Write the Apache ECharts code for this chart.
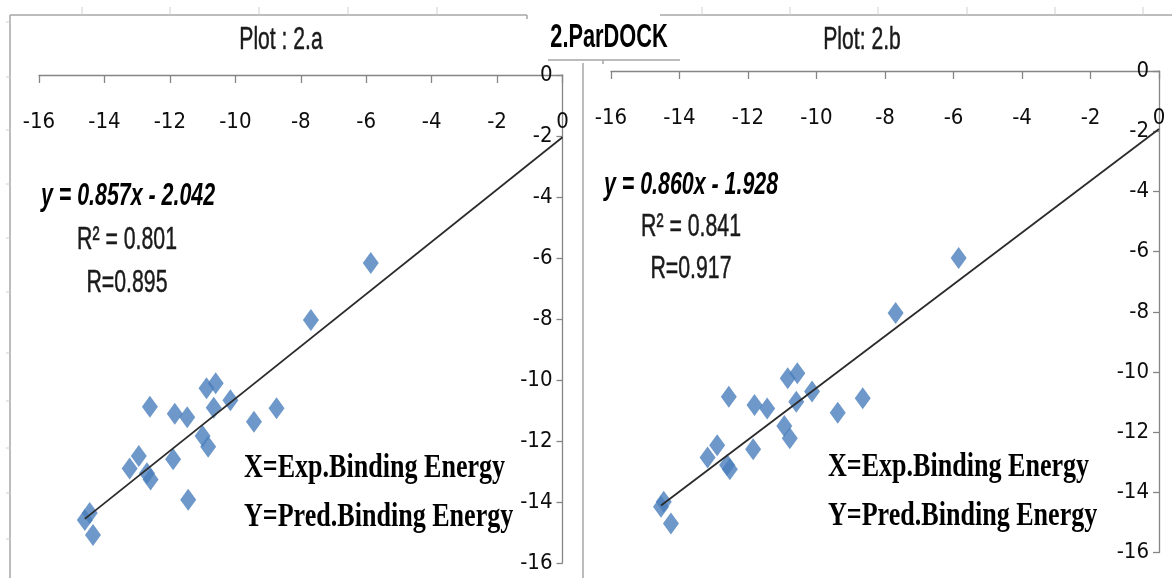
<!DOCTYPE html>
<html>
<head>
<meta charset="utf-8">
<script src="https://cdn.jsdelivr.net/npm/echarts@6/dist/echarts.min.js"></script>
<style>
html,body{margin:0;padding:0;background:#fff;}
#chart{width:1172px;height:578px;}
</style>
</head>
<body>
<div id="chart"></div>
<script>
// ---------- data ----------
const axisTicks = [-16, -14, -12, -10, -8, -6, -4, -2, 0];

const plotA_x = [-12.61, -10.88, -10.60, -10.15, -10.66, -11.85, -11.47, -9.43, -8.74, -11.00, -10.83,
                 -11.90, -12.95, -13.23, -12.70, -12.59, -11.44, -14.60, -14.45, -14.35, -5.86, -7.69];
const plotA_y = [-10.88, -10.27, -10.11, -10.66, -10.91, -11.11, -11.22, -11.37, -10.93, -11.84, -12.19,
                 -12.60, -12.49, -12.90, -13.06, -13.26, -13.93, -14.59, -14.36, -15.08, -6.16, -8.03];
const plotA_slope = 0.857, plotA_intercept = -2.042;

const plotB_x = [-12.56, -10.84, -10.56, -10.13, -10.59, -11.81, -11.44, -9.38, -8.65, -10.94, -10.78,
                 -11.85, -12.90, -13.18, -12.61, -12.53, -14.46, -14.54, -14.25, -7.69, -5.85];
const plotB_y = [-10.82, -10.21, -10.04, -10.65, -10.99, -11.10, -11.21, -11.35, -10.87, -11.79, -12.20,
                 -12.57, -12.43, -12.84, -13.09, -13.23, -14.31, -14.48, -15.03, -8.04, -6.21];
const plotB_slope = 0.860, plotB_intercept = -1.928;

const titleText = '2.ParDOCK';
const plotTitles = ['Plot : 2.a', 'Plot: 2.b'];
const eqTexts = ['y = 0.857x - 2.042', 'y = 0.860x - 1.928'];
const r2Texts = ['R\u00b2 = 0.801', 'R\u00b2 = 0.841'];
const rTexts = ['R=0.895', 'R=0.917'];
const noteX = 'X=Exp.Binding Energy';
const noteY = 'Y=Pred.Binding Energy';

// ---------- build ----------
function pairs(xs, ys){ return xs.map((x,i)=>[x, ys[i]]); }
function trend(xs, m, b){ const x0 = Math.min(...xs); return [[x0, m*x0+b],[0, b]]; }

const labelFont = "'Liberation Sans Narrow','Arial Narrow','DejaVu Sans Condensed','Liberation Sans',Arial,sans-serif";
const axisColor = '#858585';

function xAxisCfg(gi){
  return {
    type:'value', gridIndex:gi, min:axisTicks[0], max:axisTicks[axisTicks.length-1], interval:2,
    position:'top',
    axisLine:{show:true, onZero:false, lineStyle:{color:axisColor, width:1.3}},
    axisTick:{show:true, inside:true, length:8, lineStyle:{color:axisColor, width:1.3}},
    axisLabel:{inside:true, margin:36, color:'#0d0d0d', fontSize:22, fontFamily:labelFont},
    splitLine:{show:false}
  };
}
function yAxisCfg(gi){
  return {
    type:'value', gridIndex:gi, min:axisTicks[0], max:axisTicks[axisTicks.length-1], interval:2,
    position:'right',
    axisLine:{show:true, onZero:false, lineStyle:{color:axisColor, width:1.3}},
    axisTick:{show:true, inside:true, length:6, lineStyle:{color:axisColor, width:1.3}},
    axisLabel:{inside:true, margin:10, color:'#0d0d0d', fontSize:22, fontFamily:labelFont},
    splitLine:{show:false}
  };
}

const markerColor = '#4A7EBB';
function scatter(gi, data){
  return {type:'scatter', xAxisIndex:gi, yAxisIndex:gi, data:data, symbol:'diamond',
          symbolSize:[16,22], itemStyle:{color:markerColor}, z:2, silent:true};
}
function line(gi, data){
  return {type:'line', xAxisIndex:gi, yAxisIndex:gi, data:data, symbol:'none',
          lineStyle:{color:'#2b2b2b', width:1.8}, z:3, silent:true};
}

const frameColor = '#a6a6a6';
function ln(x1,y1,x2,y2,c,w){ return {type:'line', shape:{x1,y1,x2,y2}, style:{stroke:c||frameColor, lineWidth:w||1.5}, silent:true}; }
function txt(x,y,t,font,sx,fill,align,sw){
  const st = {text:t, font:font, fill:fill||'#1a1a1a', textAlign:align||'center', textVerticalAlign:'middle'};
  if (sw) { st.stroke = fill||'#1a1a1a'; st.lineWidth = sw; }
  return {type:'text', x:x, y:y, scaleX:sx, originX:0, originY:0, style:st, silent:true};
}

const graphics = [];
// chart-area frames
graphics.push(ln(10,15,527,15));
graphics.push(ln(527,15,527,19));
graphics.push(ln(10,15,10,578));
graphics.push(ln(660,15,1172,15));
graphics.push(ln(583,63,583,578));
graphics.push(ln(548,60,680,60));
graphics.push(ln(603,60,603,64));
[82,170,259,348,437].forEach(x=>graphics.push(ln(x,7,x,15,'#d0d0d0',1)));
[702,790,878,967,1055,1143].forEach(x=>graphics.push(ln(x,7,x,15,'#d0d0d0',1)));
[22,77,130,184,238,292,353,401,448,493,539].forEach(y=>graphics.push(ln(6,y,10,y,'#d0d0d0',1)));

// titles
const sans = "'Liberation Sans',Arial,sans-serif";
graphics.push(txt(609,38,titleText,"bold 33px "+sans,0.66,'#000'));
graphics.push(txt(281,40,plotTitles[0],"32px "+sans,0.66,'#1a1a1a','center',0.5));
graphics.push(txt(862,40,plotTitles[1],"32px "+sans,0.66,'#1a1a1a','center',0.5));
// regression text
graphics.push(txt(128,196,eqTexts[0],"italic bold 31px "+sans,0.69,'#000'));
graphics.push(txt(127,240,r2Texts[0],"32px "+sans,0.665,'#1a1a1a','center',0.5));
graphics.push(txt(127,283,rTexts[0],"32px "+sans,0.665,'#1a1a1a','center',0.5));
graphics.push(txt(691,185,eqTexts[1],"italic bold 31px "+sans,0.69,'#000'));
graphics.push(txt(691,227,r2Texts[1],"32px "+sans,0.665,'#1a1a1a','center',0.5));
graphics.push(txt(691,269,rTexts[1],"32px "+sans,0.665,'#1a1a1a','center',0.5));
// notes
const serif = "bold 33px 'Liberation Serif','Times New Roman',serif";
graphics.push(txt(244,468,noteX,serif,0.79,'#000','left'));
graphics.push(txt(244,517,noteY,serif,0.79,'#000','left'));
graphics.push(txt(828,467,noteX,serif,0.79,'#000','left'));
graphics.push(txt(828,516,noteY,serif,0.79,'#000','left'));

const option = {
  backgroundColor:'#ffffff',
  animation:false,
  grid:[
    {left:39, top:75, width:523.5, height:488, containLabel:false, outerBoundsMode:'none'},
    {left:611, top:71, width:548, height:481.6, containLabel:false, outerBoundsMode:'none'}
  ],
  xAxis:[xAxisCfg(0), xAxisCfg(1)],
  yAxis:[yAxisCfg(0), yAxisCfg(1)],
  series:[
    scatter(0, pairs(plotA_x, plotA_y)),
    line(0, trend(plotA_x, plotA_slope, plotA_intercept)),
    scatter(1, pairs(plotB_x, plotB_y)),
    line(1, trend(plotB_x, plotB_slope, plotB_intercept))
  ],
  graphic:graphics
};

const chart = echarts.init(document.getElementById('chart'), null, {renderer:'canvas'});
chart.setOption(option);
</script>
</body>
</html>
